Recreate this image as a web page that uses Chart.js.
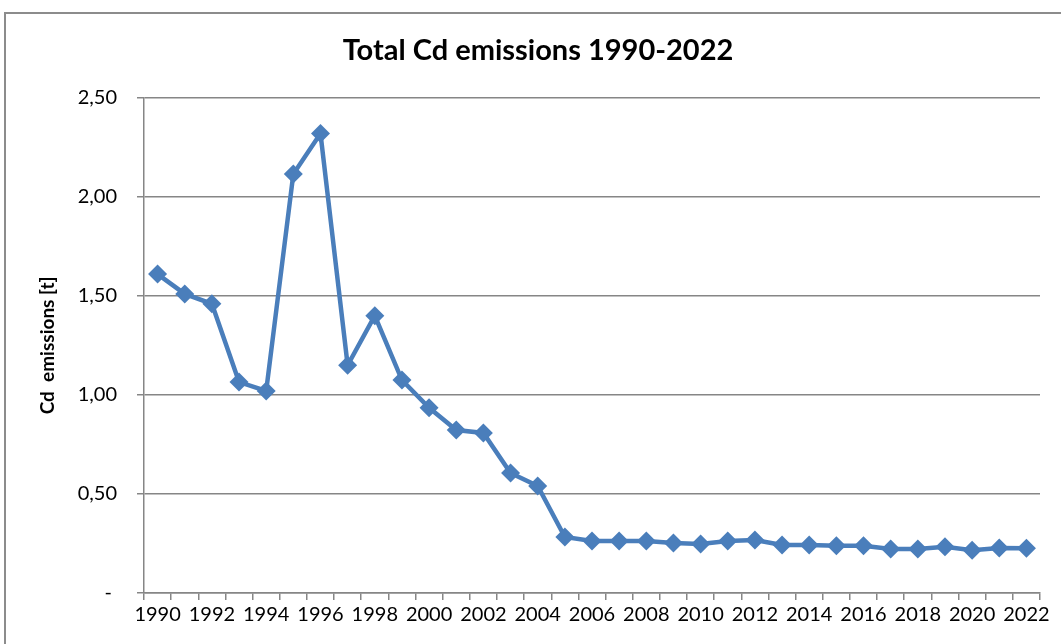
<!DOCTYPE html>
<html>
<head>
<meta charset="utf-8">
<script src="https://cdn.jsdelivr.net/npm/chart.js@4.4.0/dist/chart.umd.min.js"></script>
<style>
  html, body { margin: 0; padding: 0; background: #fff; overflow: hidden; }
  #wrap { position: relative; width: 1061px; height: 644px; }
  #cd-chart { display: block; }
  #frame {
    position: absolute; left: 4px; top: 12px; width: 1100px; height: 700px;
    border: 2px solid #8c8c8c; box-sizing: border-box; pointer-events: none;
  }
</style>
</head>
<body>
<div id="wrap">
  <canvas id="cd-chart" width="1061" height="644"></canvas>
  <div id="frame"></div>
</div>
<script>
// Years shown on the category axis
const years = [
  '1990', '1991', '1992', '1993', '1994', '1995', '1996', '1997', '1998', '1999',
  '2000', '2001', '2002', '2003', '2004', '2005', '2006', '2007', '2008', '2009',
  '2010', '2011', '2012', '2013', '2014', '2015', '2016', '2017', '2018', '2019',
  '2020', '2021', '2022'
];

// Total Cd emissions [t]
const cdEmissions = [
  1.61, 1.51, 1.46, 1.065, 1.02, 2.115, 2.32, 1.15, 1.40, 1.075,
  0.935, 0.823, 0.808, 0.606, 0.54, 0.283, 0.263, 0.263, 0.263, 0.253,
  0.247, 0.263, 0.268, 0.242, 0.242, 0.238, 0.238, 0.222, 0.222, 0.234,
  0.216, 0.227, 0.226
];

const chartTitle = 'Total Cd emissions 1990-2022';
const yAxisTitle = 'Cd  emissions [t]';

const gridGray = '#868686';
const seriesBlue = '#4a7ebb';

Chart.defaults.font.family = 'Lato, "Open Sans", sans-serif';
Chart.defaults.color = '#000';

new Chart(document.getElementById('cd-chart'), {
  type: 'line',
  data: {
    labels: years,
    datasets: [{
      label: 'Cd',
      data: cdEmissions,
      borderColor: seriesBlue,
      backgroundColor: seriesBlue,
      borderWidth: 4.5,
      tension: 0,
      fill: false,
      pointStyle: 'rectRot',
      pointRadius: 9.5,
      pointHoverRadius: 9.5,
      pointBorderWidth: 0
    }]
  },
  options: {
    responsive: false,
    animation: false,
    layout: {
      padding: { left: 36, right: 21, top: 33, bottom: 0 }
    },
    plugins: {
      legend: { display: false },
      tooltip: { enabled: false },
      title: {
        display: true,
        text: chartTitle,
        font: { size: 29, weight: 'bold' },
        color: '#000',
        padding: { top: 0, bottom: 30 }
      }
    },
    scales: {
      x: {
        type: 'category',
        offset: true,
        grid: {
          offset: true,
          drawOnChartArea: false,
          drawTicks: true,
          tickLength: 7,
          color: gridGray,
          lineWidth: 1.5
        },
        border: { color: gridGray, width: 1.5 },
        ticks: {
          autoSkip: false,
          maxRotation: 0,
          minRotation: 0,
          padding: 3,
          font: { size: 20 },
          callback: function(value, index) {
            return index % 2 === 0 ? this.getLabelForValue(value) : '';
          }
        },
        afterFit: function(scale) { scale.height = 51; }
      },
      y: {
        min: 0,
        max: 2.5,
        grid: {
          color: gridGray,
          lineWidth: 1.5,
          drawTicks: true,
          tickLength: 7
        },
        border: { color: gridGray, width: 1.5 },
        ticks: {
          stepSize: 0.5,
          padding: 20,
          font: { size: 20 },
          callback: function(value) {
            return value === 0 ? '- ' : value.toFixed(2).replace('.', ',');
          }
        },
        title: {
          display: true,
          text: yAxisTitle,
          font: { size: 19, weight: 'bold' },
          color: '#000',
          padding: 0
        },
        afterFit: function(scale) { scale.width = 108; }
      }
    }
  }
});
</script>
</body>
</html>
